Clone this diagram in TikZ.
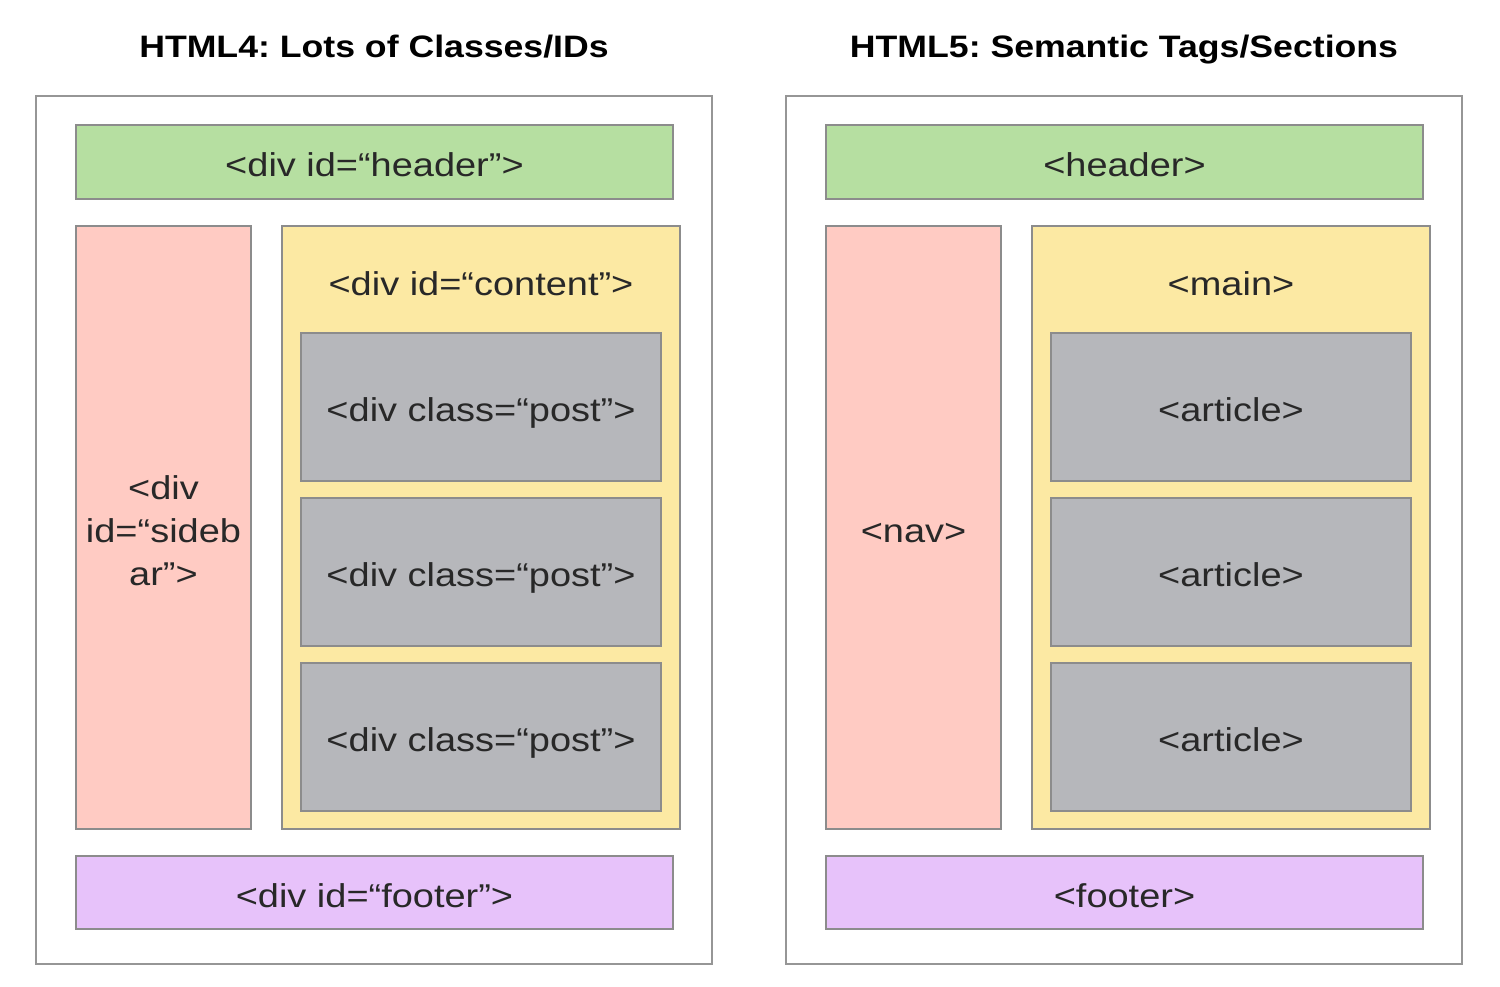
\documentclass[tikz,border=0pt]{standalone}
\usepackage{fontspec}
\setmainfont{Liberation Sans}[FakeStretch=1.15]
\frenchspacing
\definecolor{cgreen}{RGB}{182,223,161}
\definecolor{cpink}{RGB}{255,203,195}
\definecolor{cyellow}{RGB}{252,233,163}
\definecolor{cgray}{RGB}{182,183,187}
\definecolor{cpurple}{RGB}{231,194,250}
\definecolor{cborder}{RGB}{140,140,140}
\definecolor{couter}{RGB}{150,150,150}
\definecolor{ctext}{RGB}{40,40,40}
\begin{document}
\begin{tikzpicture}[x=1pt,y=-1pt,
  boxbase/.style={draw=cborder, line width=2.6pt, inner sep=0pt, outer sep=0pt, text=ctext,
    font=\fontsize{33}{43}\selectfont, align=center},
  box/.style={boxbase, text height=29pt, text depth=0pt},
  outerbox/.style={draw=couter, line width=2.6pt, fill=white, inner sep=0pt, outer sep=0pt},
  lbl/.style={text=ctext, font=\fontsize{33}{43}\selectfont, inner sep=0pt, anchor=base},
  ttl/.style={text=black, font=\fontsize{31}{36}\bfseries\selectfont, inner sep=0pt, anchor=base}]
\useasboundingbox (0,0) rectangle (1500,986);
\fill[white] (0,0) rectangle (1500,986);
% ---------- left: HTML4 ----------
\node[ttl] (t4) at (374,57) {HTML4: Lots of Classes/IDs};
\node[outerbox, minimum width=676, minimum height=868] (o4) at (374,530) {};
\node[box, fill=cgreen, minimum width=597, minimum height=74] (h4) at (374.5,162) {<div id=“header”>};
\node[boxbase, fill=cpink, minimum width=175, minimum height=603] (s4) at (163.5,527.5) {};
\node[lbl, anchor=center, align=center, yshift=-3pt] (s4l) at (163.5,527.5) {<div\\id=“sideb\\ar”>};
\node[boxbase, fill=cyellow, minimum width=398, minimum height=603] (c4) at (481,527.5) {};
\node[lbl] (c4l) at (481,295) {<div id=“content”>};
\node[box, fill=cgray, minimum width=360, minimum height=148] (p4a) at (481,407) {<div class=“post”>};
\node[box, fill=cgray, minimum width=360, minimum height=148] (p4b) at (481,572) {<div class=“post”>};
\node[box, fill=cgray, minimum width=360, minimum height=148] (p4c) at (481,737) {<div class=“post”>};
\node[box, fill=cpurple, minimum width=597, minimum height=73] (f4) at (374.5,892.5) {<div id=“footer”>};
% ---------- right: HTML5 ----------
\node[ttl] (t5) at (1124,57) {HTML5: Semantic Tags/Sections};
\node[outerbox, minimum width=676, minimum height=868] (o5) at (1124,530) {};
\node[box, fill=cgreen, minimum width=597, minimum height=74] (h5) at (1124.5,162) {<header>};
\node[box, fill=cpink, minimum width=175, minimum height=603] (s5) at (913.5,527.5) {<nav>};
\node[boxbase, fill=cyellow, minimum width=398, minimum height=603] (c5) at (1231,527.5) {};
\node[lbl] (c5l) at (1231,295) {<main>};
\node[box, fill=cgray, minimum width=360, minimum height=148] (p5a) at (1231,407) {<article>};
\node[box, fill=cgray, minimum width=360, minimum height=148] (p5b) at (1231,572) {<article>};
\node[box, fill=cgray, minimum width=360, minimum height=148] (p5c) at (1231,737) {<article>};
\node[box, fill=cpurple, minimum width=597, minimum height=73] (f5) at (1124.5,892.5) {<footer>};
\end{tikzpicture}
\end{document}
